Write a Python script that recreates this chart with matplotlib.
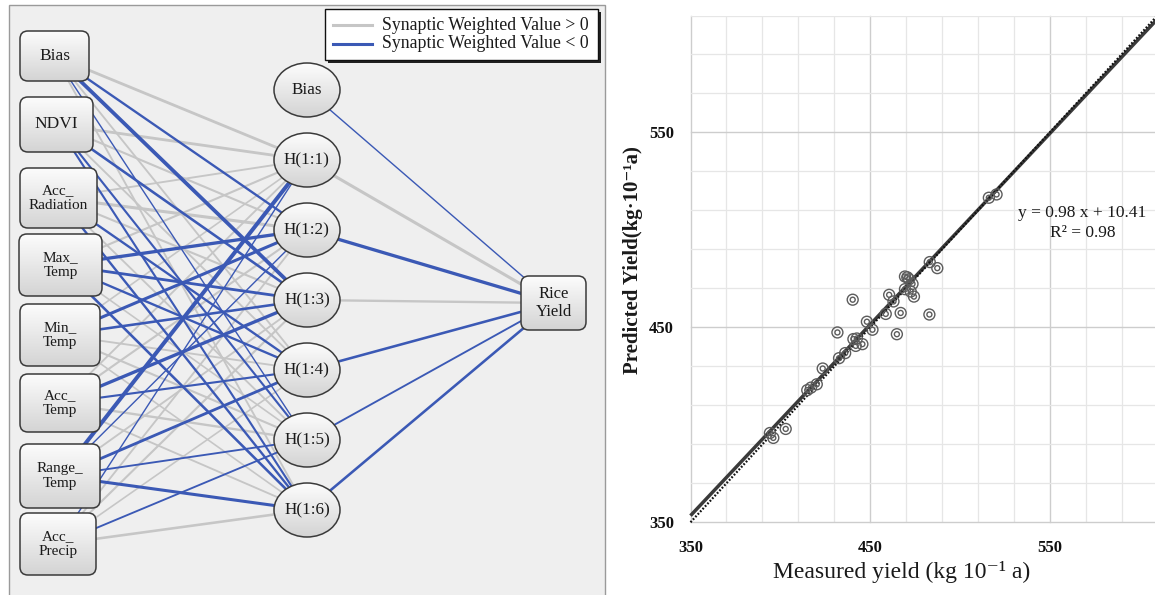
import numpy as np
import matplotlib
matplotlib.use('Agg')
import matplotlib.pyplot as plt
from matplotlib.patches import FancyBboxPatch, Ellipse, Rectangle
from matplotlib.colors import LinearSegmentedColormap
from matplotlib.ticker import FixedLocator

plt.rcParams['font.family'] = ['Liberation Serif', 'DejaVu Serif']

# ---------------- data ----------------
input_labels = ["Bias", "NDVI", "Acc_\nRadiation", "Max_\nTemp", "Min_\nTemp",
                "Acc_\nTemp", "Range_\nTemp", "Acc_\nPrecip"]
hidden_labels = ["Bias", "H(1:1)", "H(1:2)", "H(1:3)", "H(1:4)", "H(1:5)", "H(1:6)"]
output_label = "Rice\nYield"

# synaptic weights input -> H(1:1)..H(1:6)  (sign: >0 grey, <0 blue)
w_bias       = [0.45, -0.35, -0.65, 0.25, -0.15, 0.25]
w_ndvi       = [0.45, 0.30, -0.40, 0.25, -0.30, -0.30]
w_acc_rad    = [0.25, 0.50, 0.30, -0.35, 0.25, -0.35]
w_max_temp   = [0.30, -0.55, -0.45, -0.35, 0.20, -0.40]
w_min_temp   = [0.20, -0.50, -0.40, 0.25, 0.30, 0.20]
w_acc_temp   = [0.25, 0.30, -0.55, -0.30, 0.35, 0.25]
w_range_temp = [-0.70, -0.15, 0.25, -0.45, -0.25, -0.50]
w_acc_precip = [-0.15, 0.25, 0.30, 0.20, -0.25, 0.40]
# hidden (Bias, H1..H6) -> Rice Yield
w_out = [-0.15, 0.50, -0.55, 0.35, -0.40, -0.25, -0.40]

measured = [394.2, 396.1, 403.0, 415.0, 417.1, 420.3, 423.6, 431.8, 432.7, 436.1,
            440.3, 440.7, 442.6, 442.0, 445.7, 448.2, 451.3, 458.7, 460.6, 463.0,
            464.9, 467.0, 469.4, 469.4, 470.7, 471.7, 472.6, 473.6, 474.4, 483.2,
            483.0, 487.4, 516.1, 520.4]
predicted = [395.8, 393.3, 397.9, 417.8, 419.1, 420.8, 428.9, 447.4, 434.2, 436.8,
             464.2, 444.0, 444.3, 440.5, 441.4, 452.9, 448.8, 456.9, 466.7, 463.3,
             446.5, 457.4, 476.1, 469.6, 475.7, 474.7, 468.4, 472.3, 465.8, 483.5,
             456.6, 480.4, 516.5, 518.2]
fit_slope, fit_intercept, fit_r2 = 0.98, 10.41, 0.98
tick_values = [350, 450, 550]

# ---------------- figure ----------------
W, H = 1155, 595
fig = plt.figure(figsize=(W / 100, H / 100), dpi=100)
axn = fig.add_axes([0, 0, 1, 1])
axn.axis('off')

GREY = '#c6c6c6'
BLUE = '#3b59b5'
EDGE = '#3a3a3a'
cmap = LinearSegmentedColormap.from_list('g', ['#fcfcfc', '#e8e8e8', '#d4d4d4'])

# panel background
axn.add_patch(Rectangle((9, 5), 596, 600, facecolor='#efefef', edgecolor='#9a9a9a',
                        lw=1.0, zorder=0))

in_boxes = [(20, 31, 69, 50), (20, 97, 73, 55), (20, 168, 77, 60), (19, 234, 83, 62),
            (20, 304, 80, 62), (20, 374, 80, 58), (20, 444, 80, 64), (20, 513, 76, 62)]
hid_x, hid_w, hid_h = 307, 66, 54
hid_y = [90, 160, 230, 300, 370, 440, 510]
out_box = (521, 276, 65, 54)

in_centers = [(x + w / 2, y + h / 2) for x, y, w, h in in_boxes]
hid_centers = [(hid_x, y) for y in hid_y]
out_center = (out_box[0] + out_box[2] / 2, out_box[1] + out_box[3] / 2)

weights_in = [w_bias, w_ndvi, w_acc_rad, w_max_temp, w_min_temp,
              w_acc_temp, w_range_temp, w_acc_precip]


def lw_of(w):
    return 0.5 + abs(w) * 3.4


# connections: draw grey first, then blue on top
for positive in (True, False):
    for i, row in enumerate(weights_in):
        for j, w in enumerate(row):
            if (w > 0) != positive:
                continue
            (x0, y0), (x1, y1) = in_centers[i], hid_centers[j + 1]
            axn.plot([x0, x1], [y0, y1], color=GREY if w > 0 else BLUE,
                     lw=lw_of(w), solid_capstyle='butt', zorder=1 if w > 0 else 1.5)
    for j, w in enumerate(w_out):
        if (w > 0) != positive:
            continue
        (x0, y0) = hid_centers[j]
        axn.plot([x0, out_center[0]], [y0, out_center[1]], color=GREY if w > 0 else BLUE,
                 lw=lw_of(w), solid_capstyle='butt', zorder=1 if w > 0 else 1.5)


def gradient_fill(patch, x0, y0, w, h):
    patch.set_facecolor('none')
    axn.add_patch(patch)
    g = np.linspace(0, 1, 64).reshape(-1, 1)
    im = axn.imshow(g, cmap=cmap, extent=(x0, x0 + w, y0 + h, y0), origin='upper',
                    aspect='auto', zorder=2.9, interpolation='bilinear')
    im.set_clip_path(patch)


for (x, y, w, h), lab in zip(in_boxes, input_labels):
    p = FancyBboxPatch((x, y), w, h, boxstyle='round,pad=0,rounding_size=8',
                       edgecolor=EDGE, lw=1.1, zorder=3)
    gradient_fill(p, x, y, w, h)
    axn.text(x + w / 2, y + h / 2, lab, ha='center', va='center',
             fontsize=12.5 if '\n' not in lab else 11, color='#1a1a1a', zorder=4,
             linespacing=1.25)

for (cx, cy), lab in zip(hid_centers, hidden_labels):
    e = Ellipse((cx, cy), hid_w, hid_h, edgecolor=EDGE, lw=1.1, zorder=3)
    gradient_fill(e, cx - hid_w / 2, cy - hid_h / 2, hid_w, hid_h)
    axn.text(cx, cy, lab, ha='center', va='center', fontsize=12.3, color='#1a1a1a', zorder=4)

x, y, w, h = out_box
p = FancyBboxPatch((x, y), w, h, boxstyle='round,pad=0,rounding_size=8',
                   edgecolor=EDGE, lw=1.1, zorder=3)
gradient_fill(p, x, y, w, h)
axn.text(x + w / 2, y + h / 2, output_label, ha='center', va='center', fontsize=12,
         color='#1a1a1a', zorder=4, linespacing=1.25)

# legend
axn.add_patch(Rectangle((327.5, 11.5), 273, 51, facecolor='#202020', edgecolor='none', zorder=5))
axn.add_patch(Rectangle((325, 9), 273, 51, facecolor='white', edgecolor='#111111', lw=1.0, zorder=5.1))
axn.plot([333, 372], [25, 25], color=GREY, lw=2.2, zorder=5.2)
axn.plot([333, 372], [44, 44], color=BLUE, lw=2.2, zorder=5.2)
axn.text(382, 25, "Synaptic Weighted Value > 0", va='center', ha='left', fontsize=12.8,
         color='#1a1a1a', zorder=5.3)
axn.text(382, 44, "Synaptic Weighted Value < 0", va='center', ha='left', fontsize=12.8,
         color='#1a1a1a', zorder=5.3)

axn.set_xlim(0, W)
axn.set_ylim(H, 0)

# ---------------- scatter panel ----------------
L, R, T, B = 690.5, 1157.5, 15.5, 522.3
ax = fig.add_axes([L / W, 1 - B / H, (R - L) / W, (B - T) / H])
ax.set_xlim(350, 610)
ax.set_ylim(350, 610)
ax.set_facecolor('white')
for s in ax.spines.values():
    s.set_visible(False)
ax.xaxis.set_major_locator(FixedLocator(tick_values))
ax.yaxis.set_major_locator(FixedLocator(tick_values))
ax.xaxis.set_minor_locator(FixedLocator(np.arange(350, 611, 20)))
ax.yaxis.set_minor_locator(FixedLocator(np.arange(350, 611, 20)))
ax.grid(which='minor', color='#e6e6e6', lw=0.9)
ax.grid(which='major', color='#cdcdcd', lw=1.0)
ax.set_axisbelow(True)
ax.tick_params(which='both', length=0)
ax.tick_params(axis='x', pad=13)
ax.tick_params(axis='y', pad=12)
for lab in ax.get_xticklabels() + ax.get_yticklabels():
    lab.set_fontweight('bold')
    lab.set_fontsize(12)
    lab.set_color('#111111')
for gl in ax.get_xgridlines() + ax.get_ygridlines():
    gl.set_clip_on(False)

xs = np.array([350, 610])
ax.plot(xs, fit_slope * xs + fit_intercept, color='#3a3a3a', lw=2.5, zorder=3,
        solid_capstyle='butt', clip_on=False)
ax.plot(xs, xs, color='#111111', lw=1.6, ls=(0, (0.8, 0.8)), zorder=3.1, clip_on=False)

ax.scatter(measured, predicted, s=62, facecolors='none', edgecolors='#5c5c5c',
           linewidths=1.0, zorder=4)
ax.scatter(measured, predicted, s=13, facecolors='none', edgecolors='#5c5c5c',
           linewidths=1.0, zorder=4)

fig.text(1082 / W, 1 - 213 / H, f"y = {fit_slope:.2f} x + {fit_intercept:.2f}",
         ha='center', va='center', fontsize=12.5, color='#1a1a1a')
fig.text(1083 / W, 1 - 233 / H, f"R\u00b2 = {fit_r2:.2f}",
         ha='center', va='center', fontsize=12.5, color='#1a1a1a')

fig.text(902 / W, 1 - 572 / H, "Measured yield (kg 10\u207b\u00b9 a)",
         ha='center', va='center', fontsize=17, color='#1a1a1a')
fig.text(633 / W, 1 - 260 / H, "Predicted Yield(kg\u00b710\u207b\u00b9a)",
         ha='center', va='center', rotation=90, fontsize=15, fontweight='bold',
         color='#1a1a1a')

fig.savefig('out.png', dpi=100)
